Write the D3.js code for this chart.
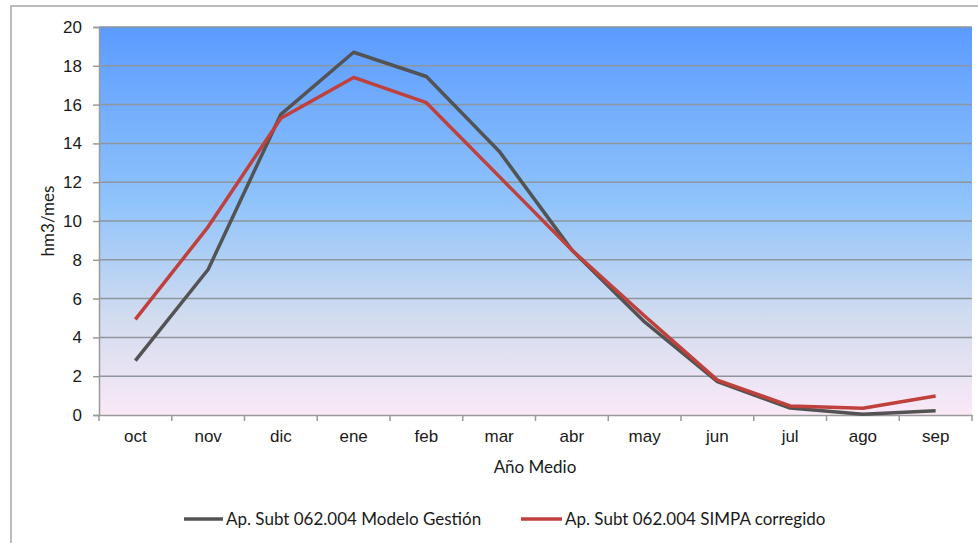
<!DOCTYPE html>
<html>
<head>
<meta charset="utf-8">
<script src="https://cdn.jsdelivr.net/npm/d3@7"></script>
<style>
  html, body { margin: 0; padding: 0; background: #fff; }
  svg { display: block; font-family: Lato, "Open Sans", sans-serif; }
</style>
</head>
<body>
<svg id="c" width="978" height="543"></svg>
<script>
// data
const months = ['oct', 'nov', 'dic', 'ene', 'feb', 'mar', 'abr', 'may', 'jun', 'jul', 'ago', 'sep'];
const modeloGestion = [2.8, 7.5, 15.5, 18.7, 17.45, 13.6, 8.5, 4.8, 1.72, 0.36, 0.04, 0.22];
const simpaCorregido = [4.93, 9.7, 15.3, 17.4, 16.1, 12.3, 8.5, 5.1, 1.8, 0.47, 0.35, 0.98];
const yTicks = [0, 2, 4, 6, 8, 10, 12, 14, 16, 18, 20];
const seriesNames = ['Ap. Subt 062.004 Modelo Gestión', 'Ap. Subt 062.004 SIMPA corregido'];
const seriesColors = ['#535353', '#c0403c'];

const svg = d3.select('#c');
const plotL = 99, plotR = 972, plotT = 27, plotB = 415;
const fs = 17;

// outer chart border
svg.append('rect')
  .attr('x', 11).attr('y', 6)
  .attr('width', 1000).attr('height', 600)
  .attr('fill', 'none')
  .attr('stroke', '#a6a6a6')
  .attr('stroke-width', 1.5);

const defs = svg.append('defs');
const grad = defs.append('linearGradient')
  .attr('id', 'bg').attr('x1', 0).attr('y1', 0).attr('x2', 0).attr('y2', 1);
grad.append('stop').attr('offset', '0%').attr('stop-color', '#5b9bff');
grad.append('stop').attr('offset', '45%').attr('stop-color', '#8fc3fb');
grad.append('stop').attr('offset', '75%').attr('stop-color', '#d2dcef');
grad.append('stop').attr('offset', '100%').attr('stop-color', '#fae9f7');

svg.append('rect')
  .attr('x', plotL).attr('y', plotT)
  .attr('width', plotR - plotL).attr('height', plotB - plotT)
  .attr('fill', 'url(#bg)');

const x = d3.scaleBand().domain(months).range([plotL, plotR]);
const y = d3.scaleLinear().domain([0, 20]).range([plotB, plotT]);

// gridlines
svg.append('g')
  .selectAll('line')
  .data(yTicks.filter(d => d > 0))
  .join('line')
  .attr('x1', plotL).attr('x2', plotR)
  .attr('y1', d => y(d)).attr('y2', d => y(d))
  .attr('stroke', '#8e959c')
  .attr('stroke-width', 1.5);

// y axis
const yAxis = svg.append('g')
  .attr('transform', `translate(${plotL},0)`)
  .call(d3.axisLeft(y).tickValues(yTicks).tickSize(6).tickPadding(11));
yAxis.select('.domain').attr('stroke', '#9a9a9a').attr('stroke-width', 1.5);
yAxis.selectAll('.tick line').attr('stroke', '#9a9a9a').attr('stroke-width', 1.5);
yAxis.selectAll('text').attr('font-size', fs).attr('fill', '#1a1a1a');

// x axis, ticks on band boundaries
const xAxis = svg.append('g')
  .attr('transform', `translate(0,${plotB})`)
  .call(d3.axisBottom(x).tickSize(0).tickPadding(15));
xAxis.select('.domain').attr('stroke', '#9a9a9a').attr('stroke-width', 1.5);
xAxis.selectAll('text').attr('font-size', fs).attr('fill', '#1a1a1a');
svg.append('g')
  .selectAll('line')
  .data(months.map(m => x(m)).concat([plotR]))
  .join('line')
  .attr('x1', d => d).attr('x2', d => d)
  .attr('y1', plotB).attr('y2', plotB + 6)
  .attr('stroke', '#9a9a9a')
  .attr('stroke-width', 1.5);

// lines
const line = d3.line()
  .x((d, i) => x(months[i]) + x.bandwidth() / 2)
  .y(d => y(d));

[modeloGestion, simpaCorregido].forEach((s, i) => {
  svg.append('path')
    .datum(s)
    .attr('d', line)
    .attr('fill', 'none')
    .attr('stroke', seriesColors[i])
    .attr('stroke-width', 3.5)
    .attr('stroke-linejoin', 'round');
});

// axis titles
svg.append('text')
  .attr('transform', 'translate(54,221) rotate(-90)')
  .attr('text-anchor', 'middle')
  .attr('font-size', fs)
  .attr('fill', '#1a1a1a')
  .text('hm3/mes');

svg.append('text')
  .attr('x', 535).attr('y', 473)
  .attr('text-anchor', 'middle')
  .attr('font-size', fs)
  .attr('fill', '#1a1a1a')
  .text('Año Medio');

// legend
const legendX = [184, 521];
const legend = svg.append('g')
  .selectAll('g')
  .data(seriesNames)
  .join('g')
  .attr('transform', (d, i) => `translate(${legendX[i]},519)`);
legend.append('line')
  .attr('x1', 0).attr('x2', (d, i) => i === 0 ? 39 : 41)
  .attr('stroke', (d, i) => seriesColors[i])
  .attr('stroke-width', 3.5);
legend.append('text')
  .attr('x', (d, i) => i === 0 ? 42 : 44)
  .attr('y', 6)
  .attr('font-size', fs)
  .attr('fill', '#1a1a1a')
  .text(d => d);
</script>
</body>
</html>
